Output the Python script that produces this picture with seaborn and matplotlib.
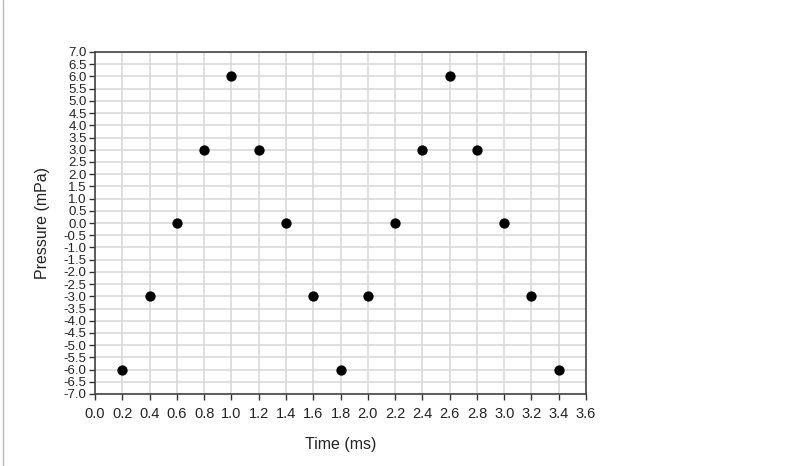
import matplotlib
matplotlib.use("Agg")
import matplotlib.pyplot as plt
import seaborn as sns
import numpy as np
import pandas as pd
from matplotlib.lines import Line2D

time_ms = [0.2, 0.4, 0.6, 0.8, 1.0, 1.2, 1.4, 1.6, 1.8, 2.0, 2.2, 2.4, 2.6, 2.8, 3.0, 3.2, 3.4]
pressure_mpa = [-6, -3, 0, 3, 6, 3, 0, -3, -6, -3, 0, 3, 6, 3, 0, -3, -6]

df = pd.DataFrame({"Time (ms)": time_ms, "Pressure (mPa)": pressure_mpa})

sns.set_theme(style="white")
plt.rcParams['font.family'] = ['Liberation Sans', 'DejaVu Sans']

fig = plt.figure(figsize=(8, 4.66), dpi=100)
ax = fig.add_axes([95/800, 1 - 394/466, (586 - 95)/800, (394 - 52)/466])

sns.scatterplot(data=df, x="Time (ms)", y="Pressure (mPa)", ax=ax,
                color="black", s=55, edgecolor="black", linewidth=0, zorder=3)

ax.set_xlim(0, 3.6)
ax.set_ylim(-7, 7)
xt = np.round(np.arange(0, 3.61, 0.2), 1)
yt = np.round(np.arange(-7, 7.01, 0.5), 1)
ax.set_xticks(xt)
ax.set_yticks(yt)
ax.set_xticklabels([f"{v:.1f}" for v in xt], fontsize=10.5, color="#222222")
ax.set_yticklabels([f"{v:.1f}" for v in yt], fontsize=9.5, color="#222222")
ax.grid(True, color="#d9d9d9", linewidth=1.2, zorder=0)
ax.set_axisbelow(True)
ax.tick_params(axis="both", direction="out", length=4, width=1, color="#333333", pad=2,
               bottom=True, left=True)
ax.tick_params(axis="x", pad=5)
for sp in ax.spines.values():
    sp.set_color("#444444")
    sp.set_linewidth(1.2)
    sp.set_visible(True)

ax.set_xlabel("Time (ms)", fontsize=11.5, color="#222222", labelpad=12)
ax.set_ylabel("Pressure (mPa)", fontsize=11.5, color="#222222", labelpad=10)

fig.add_artist(Line2D([3/800, 3/800], [0, 1], transform=fig.transFigure, color="#bbbbbb", linewidth=1))

fig.savefig("out.png", dpi=100)
